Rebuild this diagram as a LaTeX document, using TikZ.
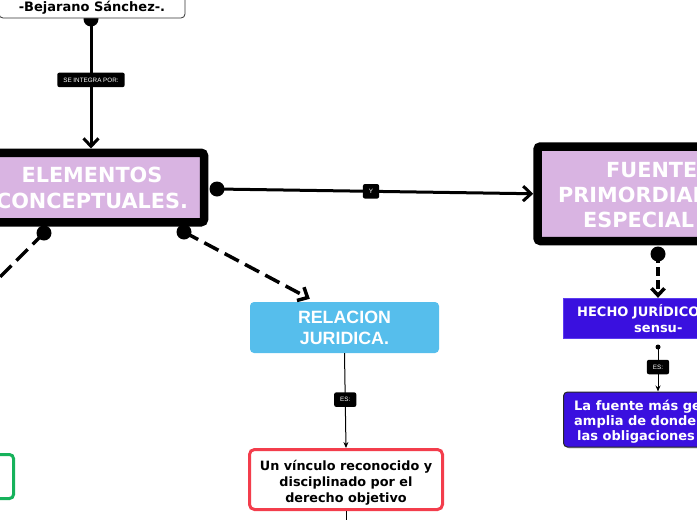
\documentclass[tikz,border=0pt]{standalone}
\usepackage{fontspec}
\setmainfont{DejaVu Sans}
\newfontfamily\lib{Liberation Sans}
\usetikzlibrary{arrows.meta,shadows,calc}
\definecolor{lila}{HTML}{D9B4E2}
\definecolor{celeste}{HTML}{56BEEC}
\definecolor{violeta}{HTML}{3A10DF}
\definecolor{violetaborde}{HTML}{5C3CF0}
\definecolor{rojo}{HTML}{F33D4C}
\definecolor{verde}{HTML}{16B25B}
\begin{document}
\begin{tikzpicture}[x=1pt,y=-1pt,
  dot/.style={circle,fill=black,inner sep=0pt,minimum size=15pt},
  smalldot/.style={circle,fill=black,inner sep=0pt,minimum size=5pt},
  thickline/.style={line width=3pt,draw=black},
  barb/.style={-{Straight Barb[length=8pt,width=15pt]}},
  dashline/.style={line width=3.5pt,draw=black,dash pattern=on 16pt off 7pt},
  thinarrow/.style={line width=1pt,draw=black,-{Stealth[length=6pt,width=5pt]}},
  lbl/.style={fill=black,rounded corners=2pt,text=white,font=\lib\fontsize{6.3}{7}\selectfont,
    inner xsep=6pt,inner ysep=0pt,minimum height=14.5pt,minimum width=14pt},
  bigbox/.style={draw=black,line width=8.5pt,fill=lila,rounded corners=3pt,inner sep=0pt},
  bigtext/.style={text=white,font=\bfseries\fontsize{20.8}{26}\selectfont,inner sep=0pt},
  smalltext/.style={font=\bfseries\fontsize{13}{15}\selectfont,inner sep=0pt},
]
\useasboundingbox (0,0) rectangle (697,520);

% dots
\node[dot] (d1) at (91,19) {};
\node[dot] (d2) at (217,189) {};
\node[dot] (d3) at (184,232) {};
\node[dot] (d4) at (44,233) {};
\node[dot] (d5) at (658,254) {};
\node[smalldot] (d6) at (658,347) {};

% boxes
\node[draw=black!80,line width=0.8pt,fill=white,rounded corners=4pt,
      minimum width=186pt,minimum height=40pt,inner sep=0pt] (bej) at (92,-2) {};
\node[smalltext,anchor=base] (bejt) at (92,11) {-Bejarano Sánchez-.};

\node[bigbox,bigtext,align=center,minimum width=224pt,minimum height=69.5pt] (elem) at (92,187.5)
  {ELEMENTOS\\CONCEPTUALES.};

\node[bigbox,minimum width=322.5pt,minimum height=94.5pt] (fuente) at (698.75,193.75) {};
\node[bigtext,anchor=base west] (f1) at (606,177) {FUENTE};
\node[bigtext,anchor=base west] (f2) at (558,202) {PRIMORDIAL};
\node[bigtext,anchor=base west] (f3) at (583,227) {ESPECIAL};

\node[fill=celeste,rounded corners=4pt,minimum width=189pt,minimum height=51pt,inner sep=0pt,
      text=white,align=center,font=\lib\bfseries\fontsize{17.8}{21}\selectfont] (rel) at (344.5,327.5)
  {RELACION\\JURIDICA.};

\node[draw=rojo,line width=3pt,fill=white,rounded corners=5pt,minimum width=193pt,
      minimum height=60pt,inner sep=0pt] (red) at (346,479.5) {};
\node[smalltext,align=center,anchor=north,font=\bfseries\fontsize{12.8}{16}\selectfont] (redt) at (346,460.5)
  {Un vínculo reconocido y\\disciplinado por el\\derecho objetivo};

\node[draw=verde,line width=3pt,rounded corners=4pt,minimum width=63.5pt,minimum height=44pt,
      inner sep=0pt] (verdebox) at (-18.25,476.5) {};

\node[fill=violeta,draw=violetaborde,line width=0.8pt,minimum width=236.5pt,minimum height=40.5pt,
      inner sep=0pt] (hecho) at (681.75,318.5) {};
\node[smalltext,text=white,anchor=base west] (h1) at (577,316) {HECHO JURÍDICO};
\node[smalltext,text=white,anchor=base west] (h2) at (634,332) {sensu-};

\node[fill=violeta,draw=black!85,line width=1pt,rounded corners=4pt,minimum width=237pt,
      minimum height=55pt,inner sep=0pt,
      drop shadow={shadow xshift=1.5pt,shadow yshift=-1.5pt,opacity=0.35}] (fb) at (682,419.5) {};
\node[smalltext,text=white,anchor=base west] (b1) at (574,410) {La fuente más general};
\node[smalltext,text=white,anchor=base west] (b2) at (574,425) {amplia de donde surgen};
\node[smalltext,text=white,anchor=base west] (b3) at (577,440) {las obligaciones de};

% connectors
\draw[thickline,barb] (d1.center) -- (d1.center |- elem.north)
  node[lbl,pos=0.47] (l1) {SE INTEGRA POR:};
\draw[thickline,barb] (d2.center) -- (fuente.west)
  node[lbl,pos=0.487] (l2) {Y};
\draw[dashline,barb] (d3.center) -- ($(rel.north west)+(60,-3)$);
\coordinate (t4) at (-12,289);
\draw[dashline] (d4.center) -- (t4);
\draw[line width=3.5pt,draw=black,dash pattern=on 9pt off 4pt,-{Straight Barb[length=7pt,width=13pt]}]
  (d5.center) -- (d5.center |- hecho.north);
\draw[thinarrow] (rel.south) -- (red.north) node[lbl,pos=0.49] (l3) {ES:};
\draw[thinarrow] (d6.center) -- (d6.center |- fb.north) node[lbl,pos=0.45] (l4) {ES:};
\coordinate (redout) at (346,530);
\draw[line width=1pt] (red.south) -- (redout);
\end{tikzpicture}
\end{document}
